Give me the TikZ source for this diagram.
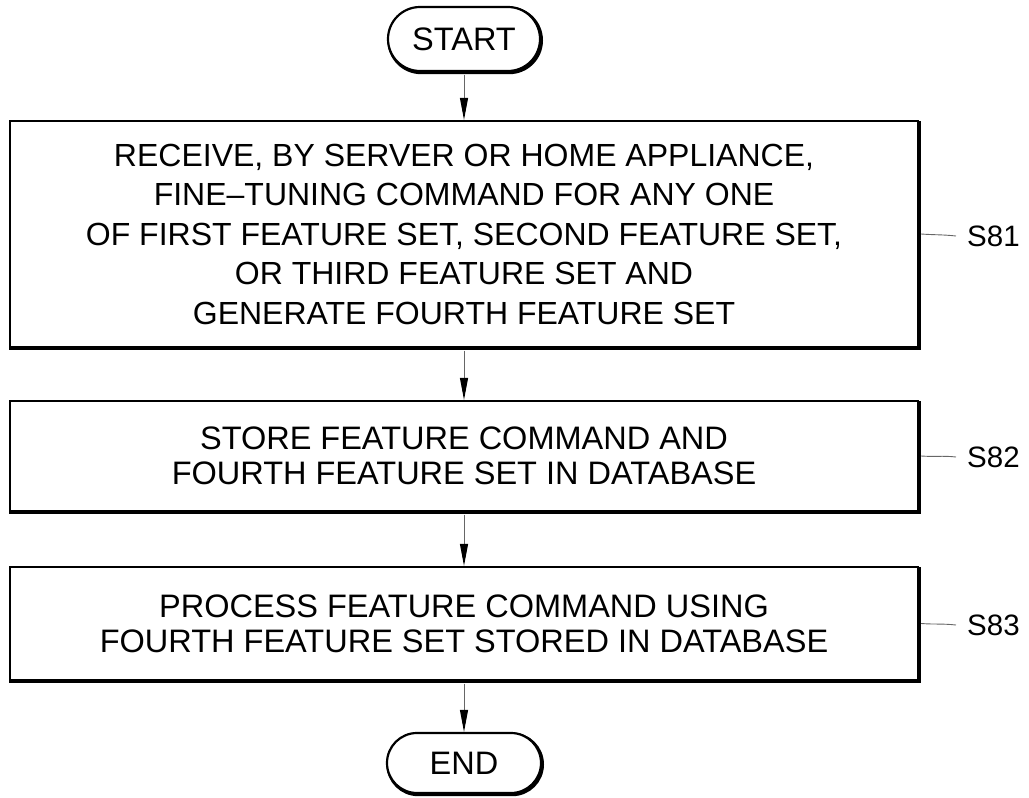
\documentclass[tikz,border=0pt]{standalone}
\usepackage{fontspec}
\setmainfont{Liberation Sans}
\usetikzlibrary{arrows.meta,shapes.misc}
\tikzset{
  shadowed/.style={fill=white, draw=black, line width=2.2pt,
    preaction={draw=black, line width=3.6pt,
      transform canvas={shift={(1.2pt,-1.4pt)}}}},
  stepbox/.style={shadowed, rectangle, inner sep=0pt, align=center,
    minimum width=908pt},
  term/.style={shadowed, rounded rectangle, inner sep=0pt,
    font=\fontsize{32.5}{36}\selectfont},
  flow/.style={draw=black!60, line width=1pt,
    -{Triangle[length=22pt,width=8pt,color=black]}},
  leader/.style={draw=black!60, line width=0.9pt},
  steplabel/.style={anchor=west, inner xsep=11pt, inner ysep=0pt,
    font=\fontsize{29.5}{32}\selectfont}
}
\begin{document}
\begin{tikzpicture}[x=1pt,y=-1pt]
\useasboundingbox (0,0) rectangle (1029,798);
\node[term, minimum width=152pt, minimum height=64pt] (start) at (464,39) {START};
\node[stepbox, minimum height=226pt, font=\fontsize{32}{39.5}\selectfont] (b1) at (464,234)
  {RECEIVE, BY SERVER OR HOME APPLIANCE,\\
   FINE--TUNING COMMAND FOR ANY ONE\\
   OF FIRST FEATURE SET, SECOND FEATURE SET,\\
   OR THIRD FEATURE SET AND\\
   GENERATE FOURTH FEATURE SET};
\node[stepbox, minimum height=110pt, font=\fontsize{32.5}{35}\selectfont] (b2) at (464,456)
  {STORE FEATURE COMMAND AND\\
   FOURTH FEATURE SET IN DATABASE};
\node[stepbox, minimum height=113pt, font=\fontsize{32.5}{35}\selectfont] (b3) at (464,623.5)
  {PROCESS FEATURE COMMAND USING\\
   FOURTH FEATURE SET STORED IN DATABASE};
\node[term, minimum width=154pt, minimum height=60pt] (end) at (464,763) {END};

\node[steplabel] (s81) at (956,236) {S81};
\node[steplabel] (s82) at (956,457) {S82};
\node[steplabel] (s83) at (956,625) {S83};

\draw[flow] ([yshift=-2.5pt]start.south) -- (b1.north);
\draw[flow] ([yshift=-2.5pt]b1.south) -- (b2.north);
\draw[flow] ([yshift=-2.5pt]b2.south) -- (b3.north);
\draw[flow] ([yshift=-2.5pt]b3.south) -- (end.north);

\draw[leader] ([xshift=2pt]b1.east) .. controls +(14,1) and +(-14,-1.5) .. (s81.west);
\draw[leader] ([xshift=2pt]b2.east) .. controls +(14,1) and +(-14,-1.5) .. (s82.west);
\draw[leader] ([xshift=2pt]b3.east) .. controls +(14,1) and +(-14,-1.5) .. (s83.west);
\end{tikzpicture}
\end{document}
